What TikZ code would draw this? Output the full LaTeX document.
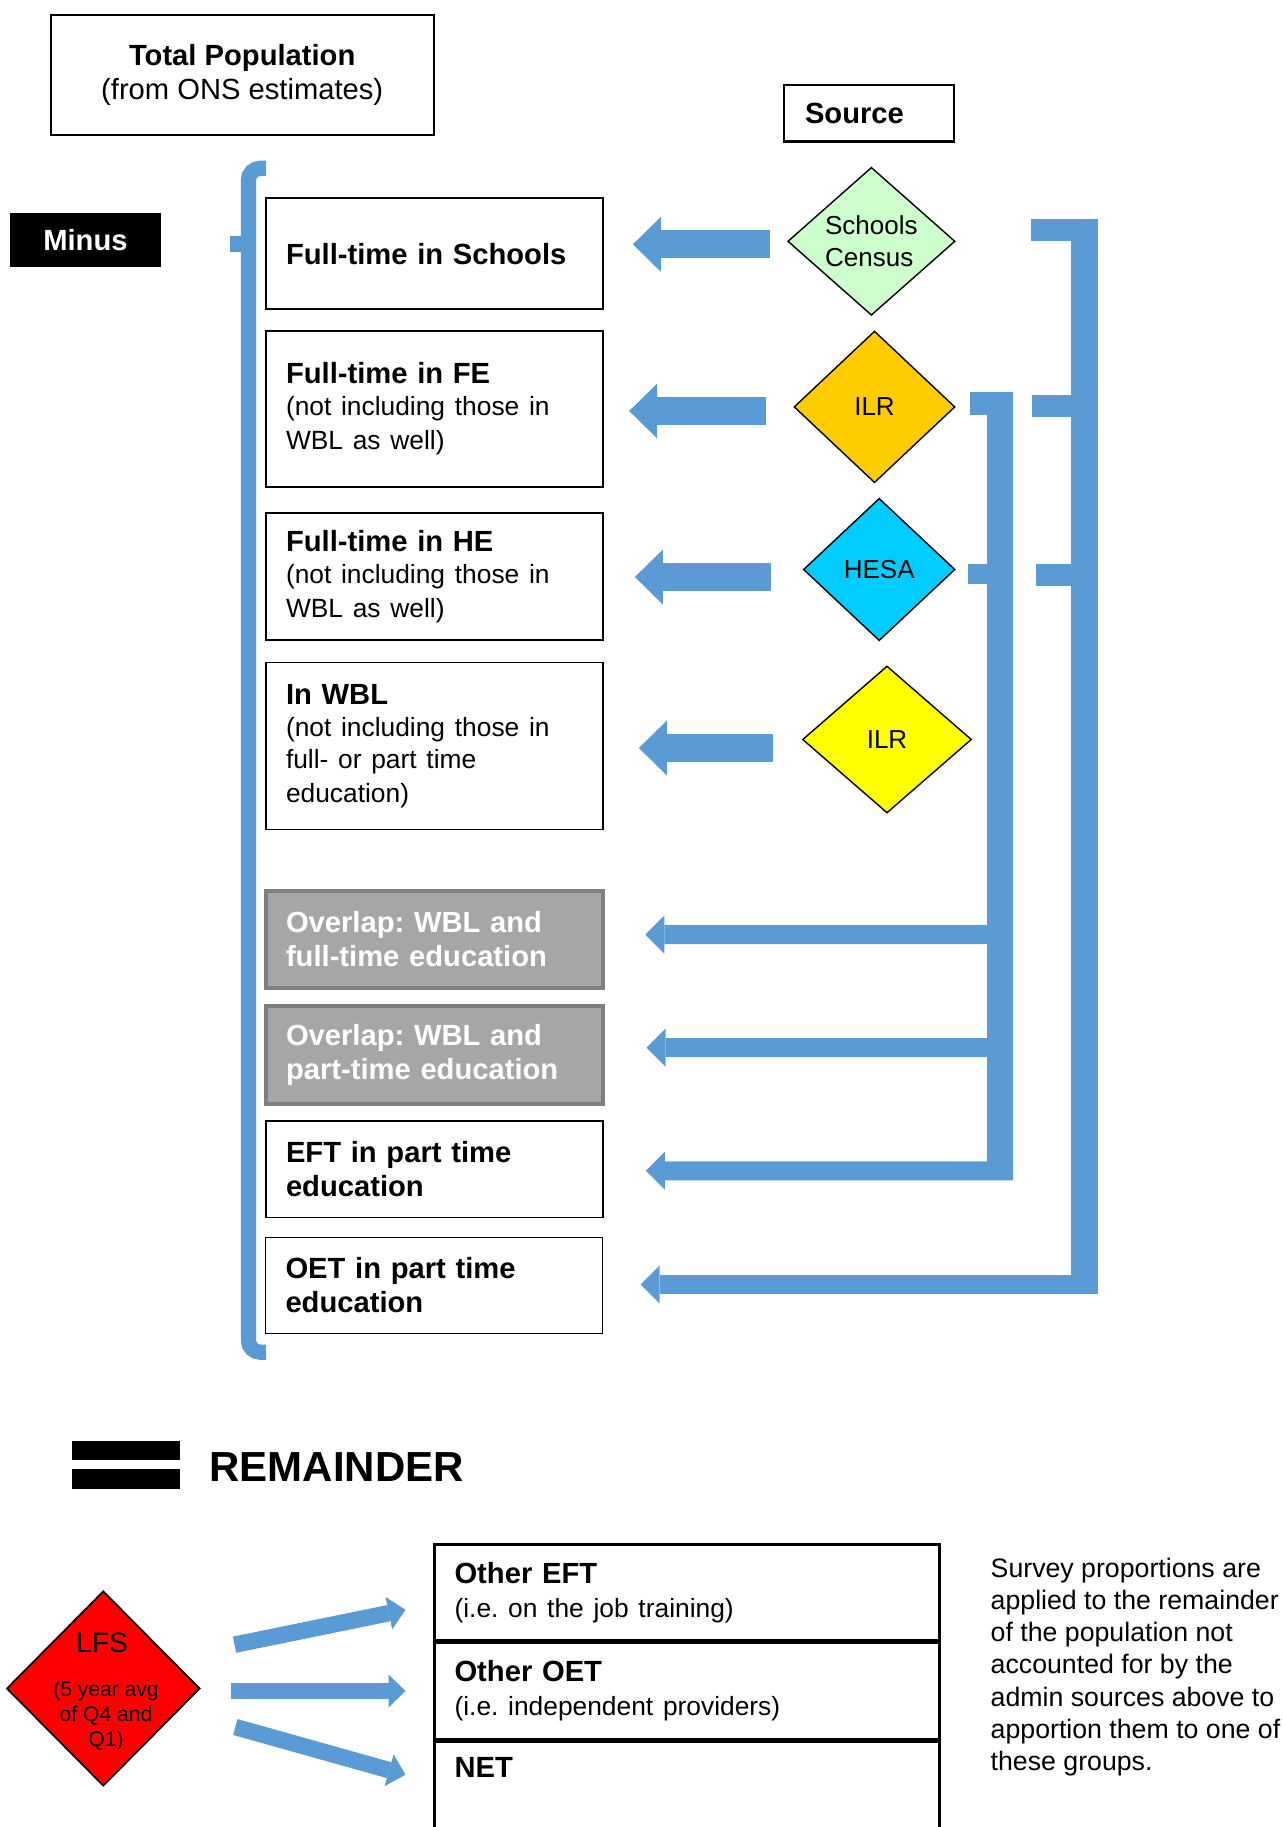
\documentclass[tikz,border=0pt]{standalone}
\usepackage{fontspec}
\setmainfont{Liberation Sans}
\usetikzlibrary{shapes.geometric, arrows.meta, positioning, calc}
\frenchspacing

\definecolor{brkblue}{HTML}{5B9BD5}
\definecolor{scgreen}{HTML}{CCFFCC}
\definecolor{ilrorange}{HTML}{FFCC00}
\definecolor{hesacyan}{HTML}{00CCFF}
\definecolor{ilryellow}{HTML}{FFFF00}
\definecolor{lfsred}{HTML}{FF0000}
\definecolor{ovgrey}{HTML}{A6A6A6}
\definecolor{ovedge}{HTML}{7F7F7F}

\newcommand{\hdsz}{\fontsize{8.3}{9.7}\selectfont}
\newcommand{\txsz}{\fontsize{7.5}{9.1}\selectfont}

\begin{document}
\begin{tikzpicture}[
    catbox/.style={rectangle, draw, line width=0.5pt, minimum width=3.37cm, text width=2.97cm, inner xsep=0.2cm, align=left, font=\hdsz},
    overlapbox/.style={catbox, draw=ovedge, line width=0.9pt, fill=ovgrey, text=white, font=\hdsz\bfseries},
    rowbox/.style={rectangle, draw, line width=0.7pt, minimum height=0.96cm, text width=4.649cm, inner xsep=0.2cm, align=left, font=\hdsz},
    src/.style={diamond, draw, line width=0.4pt, inner sep=0pt, align=left, font=\fontsize{7.4}{9}\selectfont},
    fatarrow/.style={draw=brkblue, line width=0.28cm, -{Triangle[length=0.28cm, width=0.55cm, line width=0pt]}},
    brkarrow/.style={draw=brkblue, line width=0.19cm, -{Triangle[length=0.19cm, width=0.38cm, line width=0pt]}},
    lfsarrow/.style={draw=brkblue, line width=0.165cm, -{Triangle[length=0.17cm, width=0.33cm, line width=0pt]}}
]
\useasboundingbox (0,0) rectangle (12.83,-18.27);

% Total population and source heading
\node[rectangle, draw, line width=0.6pt, minimum width=3.83cm, minimum height=1.196cm, align=center, font=\fontsize{8.3}{9.6}\selectfont] (total) at (2.422,-0.752) {\textbf{Total Population}\\(from ONS estimates)};
\node[rectangle, draw, line width=0.6pt, minimum width=1.70cm, minimum height=0.567cm, text width=1.28cm, inner xsep=0.21cm, align=left, font=\hdsz\bfseries] (source) at (8.69,-1.132) {Source};
\node[rectangle, fill=black, text=white, minimum width=1.512cm, minimum height=0.54cm, font=\hdsz\bfseries] (minus) at (0.854,-2.40) {Minus};

% Groups taken away
\node[catbox, minimum height=1.107cm] (ftsch) at (4.345,-2.537) {\textbf{Full-time in Schools}};
\node[catbox, minimum height=1.557cm] (ftfe) at (4.345,-4.089) {\textbf{Full-time in FE}\\\txsz (not including those in\\WBL as well)};
\node[catbox, minimum height=1.273cm] (fthe) at (4.345,-5.764) {\textbf{Full-time in HE}\\\txsz (not including those in\\WBL as well)};
\node[catbox, minimum height=1.67cm] (wbl) at (4.345,-7.46) {\textbf{In WBL}\\\txsz (not including those in\\full- or part time\\education)};
\node[overlapbox, minimum height=0.97cm] (ovft) at (4.345,-9.395) {Overlap: WBL and\\full-time education};
\node[overlapbox, minimum height=0.98cm] (ovpt) at (4.345,-10.55) {Overlap: WBL and\\part-time education};
\node[catbox, minimum height=0.964cm, font=\hdsz\bfseries] (eft) at (4.345,-11.692) {EFT in part time\\education};
\node[catbox, minimum height=0.96cm, font=\hdsz\bfseries] (oet) at (4.34,-12.855) {OET in part time\\education};

% Left bracket
\draw[brkblue, line width=0.153cm, rounded corners=0.12cm] (2.66,-1.683) -- (2.484,-1.683) -- (2.484,-13.522) -- (2.66,-13.522);
\fill[brkblue] (2.30,-2.357) rectangle (2.41,-2.517);

% Sources
\node[src, fill=scgreen, minimum width=1.673cm, minimum height=1.48cm] (sc) at (8.714,-2.413) {Schools\\Census};
\node[src, fill=ilrorange, minimum width=1.61cm, minimum height=1.517cm] (ilr) at (8.745,-4.069) {ILR};
\node[src, fill=hesacyan, minimum width=1.517cm, minimum height=1.424cm] (hesa) at (8.792,-5.695) {HESA};
\node[src, fill=ilryellow, minimum width=1.69cm, minimum height=1.47cm] (ilrwbl) at (8.87,-7.395) {ILR};

% Arrows from sources
\draw[fatarrow] ($(sc.west)+(-0.167,-0.03)$) -- ($(sc.west -| ftsch.east)+(0.29,-0.03)$);
\draw[fatarrow] ($(ilr.west)+(-0.273,-0.041)$) -- ($(ilr.west -| ftfe.east)+(0.253,-0.041)$);
\draw[fatarrow] ($(hesa.west)+(-0.313,-0.075)$) -- ($(hesa.west -| fthe.east)+(0.31,-0.075)$);
\draw[fatarrow] ($(ilrwbl.west)+(-0.285,-0.085)$) -- ($(ilrwbl.west -| wbl.east)+(0.35,-0.085)$);

% Inner bracket (ILR + HESA)
\fill[brkblue] (9.87,-3.923) rectangle (10.13,-11.803);
\fill[brkblue] (9.70,-3.923) rectangle (10.13,-4.15);
\fill[brkblue] (9.68,-5.64) rectangle (9.87,-5.837);
\coordinate (intap1) at (10.0,-9.3465);
\coordinate (intap2) at (10.0,-10.4765);
\coordinate (intap3) at (10.13,-11.708);
\draw[brkarrow] (intap1) -- ($(ovft.east)+(0.407,0.048)$);
\draw[brkarrow] (intap2) -- ($(ovpt.east)+(0.42,0.074)$);
\draw[brkarrow] (intap3) -- ($(eft.east)+(0.42,-0.016)$);

% Outer bracket (all sources)
\fill[brkblue] (10.71,-2.19) rectangle (10.98,-12.94);
\fill[brkblue] (10.31,-2.19) rectangle (10.98,-2.407);
\fill[brkblue] (10.32,-3.95) rectangle (10.71,-4.167);
\fill[brkblue] (10.36,-5.64) rectangle (10.71,-5.857);
\coordinate (outtap) at (10.98,-12.845);
\draw[brkarrow] (outtap) -- ($(oet.east)+(0.373,0.01)$);

% Remainder
\fill (0.72,-14.407) rectangle (1.80,-14.60);
\fill (0.72,-14.69) rectangle (1.80,-14.893);
\node[anchor=base west, inner sep=0pt, font=\bfseries\fontsize{11.95}{14}\selectfont] (remainder) at (2.087,-14.817) {REMAINDER};

% LFS split
\node[diamond, draw, line width=0.5pt, fill=lfsred, inner sep=0pt, minimum width=1.933cm, minimum height=1.95cm] (lfs) at (1.033,-16.885) {};
\node[anchor=base, inner sep=0pt, font=\fontsize{8}{9}\selectfont] (lfsname) at (1.02,-16.527) {LFS};
\node[anchor=base, inner sep=0pt, align=center, font=\fontsize{6}{7.1}\selectfont] (lfsnote) at (1.06,-17.467) {(5 year avg\\of Q4 and\\Q1)};

\node[rowbox, anchor=north] (oeft) at (6.87,-15.433) {\textbf{Other EFT}\\\txsz (i.e. on the job training)};
\node[rowbox, below=0pt of oeft] (ooet) {\textbf{Other OET}\\\txsz (i.e. independent providers)};
\node[rowbox, below=0pt of ooet] (net) {\textbf{NET}\\\txsz\strut};

\draw[lfsarrow] ($(lfs.east)+(0.337,0.438)$) -- ($(oeft.west)+(-0.278,-0.172)$);
\draw[lfsarrow] ($(lfs.east |- ooet.west)+(0.30,0)$) -- ($(ooet.west)+(-0.278,0)$);
\draw[lfsarrow] ($(lfs.east)+(0.345,-0.385)$) -- ($(net.west)+(-0.278,0.147)$);

\node[anchor=north west, inner sep=0pt, align=left, font=\fontsize{7.6}{9.16}\selectfont] (note) at (9.90,-15.572) {Survey proportions are\\applied to the remainder\\of the population not\\accounted for by the\\admin sources above to\\apportion them to one of\\these groups.};

\end{tikzpicture}
\end{document}
